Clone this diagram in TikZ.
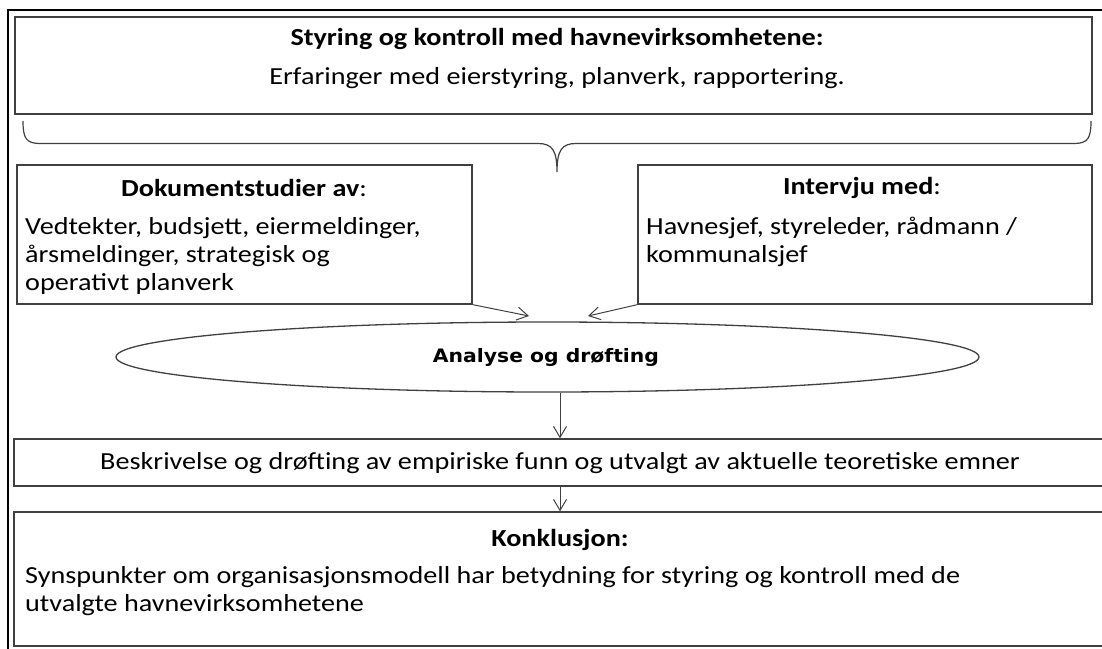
\documentclass[tikz,border=0pt]{standalone}
\usepackage{fontspec}
\setmainfont{Carlito}[FakeStretch=1.15]
\newfontfamily\ellfont{DejaVu Sans}[FakeStretch=1.1]
\usetikzlibrary{arrows.meta,shapes.geometric}

\tikzset{
  boxline/.style={draw={rgb,255:red,64;green,64;blue,64},line width=1.3pt},
  flowarrow/.style={draw={rgb,255:red,64;green,64;blue,64},line width=1pt,-{Straight Barb[length=11pt,width=13pt,line width=1pt]}},
  txt/.style={inner sep=0pt,font=\fontsize{24.5}{28}\selectfont},
  lefttxt/.style={txt,anchor=west,align=left}
}

\begin{document}
\begin{tikzpicture}[x=1pt,y=1pt,yscale=-1,xscale=1]
\useasboundingbox (0,0) rectangle (1102,648);
\clip (0,0) rectangle (1102,648);

% outer frame (only top and left visible)
\draw [line width=2.6pt] (8,700) -- (8,10) -- (1120,10) ;

% boxes
\node [boxline,minimum width=1077,minimum height=97,inner sep=0pt] (top) at (553.5,65.5) {};
\node [boxline,minimum width=455,minimum height=139,inner sep=0pt] (doc) at (244.5,234.5) {};
\node [boxline,minimum width=454,minimum height=139,inner sep=0pt] (int) at (865,234.5) {};
\node [boxline,ellipse,minimum width=863,minimum height=70,inner sep=0pt] (ana) at (547.5,357) {};
\node [boxline,minimum width=1110,minimum height=47,inner sep=0pt] (bes) at (569,462.5) {};
\node [boxline,minimum width=1110,minimum height=134,inner sep=0pt] (kon) at (569,579) {};

% brace under the top box
\draw [boxline,line width=1.2pt] (23,121) .. controls (23,138) and (26,143.5) .. (40,143.5) -- (538,143.5) .. controls (552,143.5) and (557,150) .. (557,172) .. controls (557,150) and (562,143.5) .. (576,143.5) -- (1074,143.5) .. controls (1088,143.5) and (1091,138) .. (1091,121) ;

% arrows
\coordinate (a1) at (529,316);
\coordinate (a2) at (588,316);
\draw [flowarrow] (doc.south east) -- (a1) ;
\draw [flowarrow] (int.south west) -- (a2) ;
\draw [flowarrow] (ana.south -| 560,0) -- (bes.north -| 560,0) ;
\draw [flowarrow] (bes.south -| 560,0) -- (kon.north -| 560,0) ;

% texts
\node [txt] (t1) at (557,39) {\textbf{Styring og kontroll med havnevirksomhetene:}};
\node [txt] (t2) at (557,78) {Erfaringer med eierstyring, planverk, rapportering.};
\node [txt] (t3) at (244,188) {\textbf{Dokumentstudier av}:};
\node [lefttxt] (t4) at (25,256) {Vedtekter, budsjett, eiermeldinger,\\årsmeldinger, strategisk og\\operativt planverk};
\node [txt] (t5) at (862,188) {\textbf{Intervju med}:};
\node [lefttxt] (t6) at (646,242) {Havnesjef, styreleder, rådmann /\\kommunalsjef};
\node [inner sep=0pt,font=\ellfont\bfseries\fontsize{18.5}{22}\selectfont] (t7) at (546,357) {Analyse og drøfting};
\node [txt] (t8) at (560,463) {Beskrivelse og drøfting av empiriske funn og utvalgt av aktuelle teoretiske emner};
\node [txt] (t9) at (560,540) {\textbf{Konklusjon:}};
\node [lefttxt] (t10) at (25,591) {Synspunkter om organisasjonsmodell har betydning for styring og kontroll med de\\utvalgte havnevirksomhetene};

\end{tikzpicture}
\end{document}
